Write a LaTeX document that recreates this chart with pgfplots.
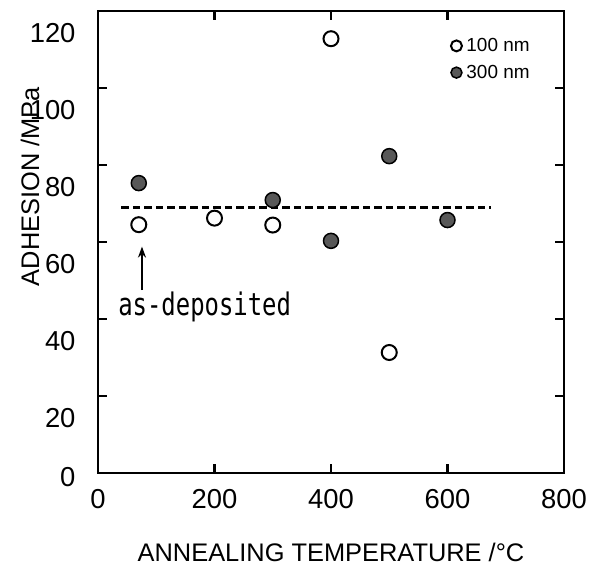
\documentclass[border=0pt]{standalone}
\usepackage{pgfplots}
\pgfplotsset{compat=1.18}
\usetikzlibrary{arrows.meta}
\usepackage{graphicx}
\usepackage{fontspec}
\setmainfont{Liberation Sans}
\newfontfamily\gothic{DejaVu Sans Mono}
\definecolor{fillg}{RGB}{88,88,88}
\pgfplotsset{lgd/.style={legend image code/.code={\path[draw=none,fill=none] (0bp,0bp) -- (9bp,0bp);\draw[##1, mark size=5.5bp] plot coordinates {(0bp,0bp)};}}}
\begin{document}
\begin{tikzpicture}
\begin{axis}[
  scale only axis, width=466bp, height=462bp,
  xmin=0, xmax=800, ymin=0, ymax=120,
  xtick={0,200,...,800}, ytick={20,40,...,120},
  extra y ticks={0}, extra y tick style={yticklabel style={yshift=18bp}},
  tick align=inside, major tick length=9bp,
  axis line style={line width=2.8bp},
  every tick/.style={line width=2.2bp, black},
  tick label style={font=\fontsize{27.5}{27.5}\selectfont},
  yticklabel style={yshift=-22bp, xshift=-19bp},
  xticklabel style={yshift=-13bp},
  /pgf/number format/assume math mode=true,
  xlabel={ANNEALING TEMPERATURE /°C}, ylabel={ADHESION /MPa},
  label style={font=\fontsize{25.5}{25.5}\selectfont},
  xlabel style={at={(rel axis cs:0.5,0)}, anchor=center, yshift=-79bp},
  ylabel style={at={(rel axis cs:-0.146,0.62)}, anchor=center},
  legend style={draw=none, fill=none, at={(rel axis cs:0.757,0.943)}, anchor=north west,
    font=\fontsize{19}{19}\selectfont, row sep=10bp, inner sep=0pt, nodes={inner sep=1bp}},
  legend cell align=left,
]
\addplot[only marks, mark=o, mark size=7.5bp, line width=2bp, black, lgd]
  coordinates {(70,64.5) (200,66.2) (300,64.4) (400,112.8) (500,31.3)};
\addlegendentry{100 nm}
\addplot[only marks, mark=*, mark size=7.5bp, line width=1.5bp, black, mark options={fill=fillg, draw=black}, lgd]
  coordinates {(70,75.3) (300,70.9) (400,60.3) (500,82.3) (600,65.7)};
\addlegendentry{300 nm}
\addplot[black, line width=2.6bp, dash pattern=on 7.5bp off 4bp, forget plot]
  coordinates {(40,69) (675,69)};
\draw[-{Stealth[length=11bp,width=8bp]}, line width=1.6bp] (axis cs:75.5,47.5) -- (axis cs:75.5,58.8);
\node[anchor=base west, inner sep=0pt, font=\gothic\fontsize{24}{24}\selectfont] at (axis cs:34.5,40.9) {\scalebox{1}[1.3]{as-deposited}};
\end{axis}
\path ([xshift=-98bp,yshift=-92bp]current axis.south west) rectangle ([xshift=27bp,yshift=11bp]current axis.north east);
\end{tikzpicture}
\end{document}
